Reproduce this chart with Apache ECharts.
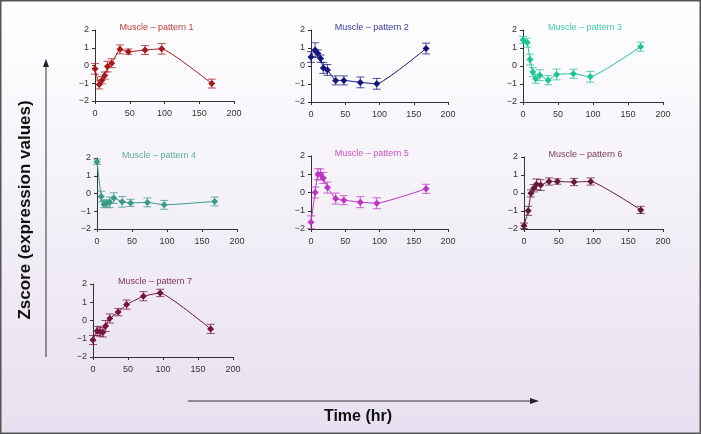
<!DOCTYPE html>
<html>
<head>
<meta charset="utf-8">
<script src="https://cdn.jsdelivr.net/npm/echarts@6/dist/echarts.min.js"></script>
<style>
html,body{margin:0;padding:0;}
#c{width:701px;height:434px;}
</style>
</head>
<body>
<div id="c"></div>
<script>
// ---- data ----
const times = [0, 6, 10, 14, 18, 24, 36, 48, 72, 96, 168];
const xTicks = [0, 50, 100, 150, 200];
const yTicks = [-2, -1, 0, 1, 2];
const titles = ["Muscle – pattern 1", "Muscle – pattern 2", "Muscle – pattern 3", "Muscle – pattern 4", "Muscle – pattern 5", "Muscle – pattern 6", "Muscle – pattern 7"];

const p1Mean = [-0.19, -1.07, -0.83, -0.57, -0.06, 0.13, 0.91, 0.78, 0.87, 0.94, -1.02];
const p1Err  = [0.3, 0.25, 0.2, 0.2, 0.3, 0.25, 0.25, 0.15, 0.25, 0.3, 0.25];
const p2Mean = [0.5, 0.89, 0.69, 0.41, -0.11, -0.22, -0.8, -0.8, -0.91, -0.99, 0.97];
const p2Err  = [0.3, 0.4, 0.2, 0.2, 0.3, 0.3, 0.25, 0.25, 0.3, 0.3, 0.3];
const p3Mean = [1.45, 1.3, 0.36, -0.34, -0.71, -0.51, -0.79, -0.47, -0.43, -0.6, 1.07];
const p3Err  = [0.2, 0.25, 0.3, 0.25, 0.25, 0.3, 0.25, 0.3, 0.25, 0.3, 0.25];
const p4Mean = [1.79, -0.17, -0.6, -0.55, -0.5, -0.26, -0.47, -0.53, -0.5, -0.64, -0.45];
const p4Err  = [0.15, 0.3, 0.2, 0.2, 0.3, 0.3, 0.3, 0.2, 0.25, 0.25, 0.25];
const p5Mean = [-1.63, 0.0, 1.0, 0.99, 0.8, 0.27, -0.33, -0.42, -0.53, -0.59, 0.2];
const p5Err  = [0.35, 0.3, 0.3, 0.3, 0.3, 0.3, 0.3, 0.25, 0.3, 0.3, 0.25];
const p6Mean = [-1.82, -0.99, -0.02, 0.26, 0.48, 0.44, 0.64, 0.64, 0.61, 0.64, -0.94];
const p6Err  = [0.15, 0.25, 0.2, 0.2, 0.3, 0.3, 0.2, 0.15, 0.2, 0.2, 0.2];
const p7Mean = [-1.07, -0.57, -0.61, -0.65, -0.3, 0.11, 0.46, 0.87, 1.33, 1.51, -0.46];
const p7Err  = [0.25, 0.25, 0.25, 0.25, 0.3, 0.25, 0.2, 0.25, 0.25, 0.2, 0.25];

const means = [p1Mean, p2Mean, p3Mean, p4Mean, p5Mean, p6Mean, p7Mean];
const errs = [p1Err, p2Err, p3Err, p4Err, p5Err, p6Err, p7Err];

// ---- styling / layout ----
const colors = ["#a81818", "#14147e", "#1fc495", "#3a9a88", "#c034c4", "#651838", "#761340"];
const titleColors = ["#c23a36", "#3a3aa2", "#3fd0a6", "#5aaea0", "#cc50cc", "#7a3a5a", "#8a2f58"];
const grids = [
  {left: 95, top: 30, width: 139, height: 71},
  {left: 311, top: 30, width: 137, height: 72},
  {left: 523, top: 30, width: 140, height: 72},
  {left: 97, top: 158, width: 140, height: 71},
  {left: 311, top: 156, width: 137, height: 73},
  {left: 524, top: 157, width: 139, height: 72},
  {left: 93, top: 284, width: 140, height: 73}
];

const chart = echarts.init(document.getElementById('c'), null, {renderer: 'canvas'});

const option = {
  animation: false,
  backgroundColor: {
    type: 'linear', x: 0, y: 0, x2: 0, y2: 1,
    colorStops: [{offset: 0, color: '#ffffff'}, {offset: 1, color: '#e7e0f0'}]
  },
  grid: [], xAxis: [], yAxis: [], series: [], title: [],
  graphic: []
};

grids.forEach((g, i) => {
  option.grid.push(Object.assign({containLabel: false}, g));
  option.xAxis.push({
    type: 'value', gridIndex: i, min: xTicks[0], max: xTicks[xTicks.length - 1], interval: 50,
    axisLine: {show: true, onZero: false, lineStyle: {color: '#333', width: 1}},
    axisTick: {show: true, length: 3, lineStyle: {color: '#333'}},
    axisLabel: {fontSize: 9, color: '#333', margin: 8, fontFamily: 'Liberation Sans, Arial'},
    splitLine: {show: false}
  });
  option.yAxis.push({
    type: 'value', gridIndex: i, min: yTicks[0], max: yTicks[yTicks.length - 1], interval: 1,
    axisLine: {show: true, onZero: false, lineStyle: {color: '#333', width: 1}},
    axisTick: {show: true, length: 3, lineStyle: {color: '#333'}},
    axisLabel: {fontSize: 9, color: '#333', margin: 6, fontFamily: 'Liberation Sans, Arial',
      formatter: v => (v < 0 ? '\u2212' + Math.abs(v) : String(v))},
    splitLine: {show: false}
  });
  option.title.push({
    text: titles[i],
    left: g.left + g.width * 0.45 - 6, top: g.top - 12,
    textAlign: 'center',
    textStyle: {fontSize: 9, fontWeight: 'normal', color: titleColors[i], fontFamily: 'Liberation Sans, Arial'}
  });
  const col = colors[i];
  const lineData = times.map((t, k) => [t, means[i][k]]);
  const errData = times.map((t, k) => [t, means[i][k] - errs[i][k], means[i][k] + errs[i][k]]);
  option.series.push({
    type: 'custom', xAxisIndex: i, yAxisIndex: i, data: errData, z: 2,
    renderItem: (params, api) => {
      const x = api.value(0);
      const lo = api.coord([x, api.value(1)]);
      const hi = api.coord([x, api.value(2)]);
      const w = 4;
      const st = {stroke: col, lineWidth: 1, opacity: 0.75};
      return {type: 'group', children: [
        {type: 'line', shape: {x1: lo[0], y1: lo[1], x2: hi[0], y2: hi[1]}, style: st},
        {type: 'line', shape: {x1: lo[0] - w, y1: lo[1], x2: lo[0] + w, y2: lo[1]}, style: st},
        {type: 'line', shape: {x1: hi[0] - w, y1: hi[1], x2: hi[0] + w, y2: hi[1]}, style: st}
      ]};
    }
  });
  option.series.push({
    type: 'line', xAxisIndex: i, yAxisIndex: i, data: lineData, z: 3,
    smooth: 0.12,
    symbol: 'diamond', symbolSize: 7,
    lineStyle: {color: col, width: 1},
    itemStyle: {color: col}
  });
});

// axis-arrow annotations
option.graphic = [
  {type: 'rect', shape: {x: 0.5, y: 0.5, width: 700, height: 433}, style: {fill: 'none', stroke: '#555', lineWidth: 2}, silent: true},
  {type: 'line', shape: {x1: 46, y1: 357, x2: 46, y2: 66}, style: {stroke: '#333', lineWidth: 1}},
  {type: 'polygon', shape: {points: [[46, 59], [43, 67], [49, 67]]}, style: {fill: '#222'}},
  {type: 'line', shape: {x1: 188, y1: 401, x2: 531, y2: 401}, style: {stroke: '#333', lineWidth: 1}},
  {type: 'polygon', shape: {points: [[539, 401], [530, 398], [530, 404]]}, style: {fill: '#222'}},
  {type: 'text', x: 25, y: 210, rotation: Math.PI / 2,
    style: {text: 'Zscore (expression values)', fontSize: 17, fontWeight: 'bold', fill: '#111',
      fontFamily: 'Liberation Sans, Arial', align: 'center', verticalAlign: 'middle'}},
  {type: 'text', x: 358, y: 417,
    style: {text: 'Time (hr)', fontSize: 16, fontWeight: 'bold', fill: '#111',
      fontFamily: 'Liberation Sans, Arial', align: 'center', verticalAlign: 'middle'}}
];

chart.setOption(option);
</script>
</body>
</html>
